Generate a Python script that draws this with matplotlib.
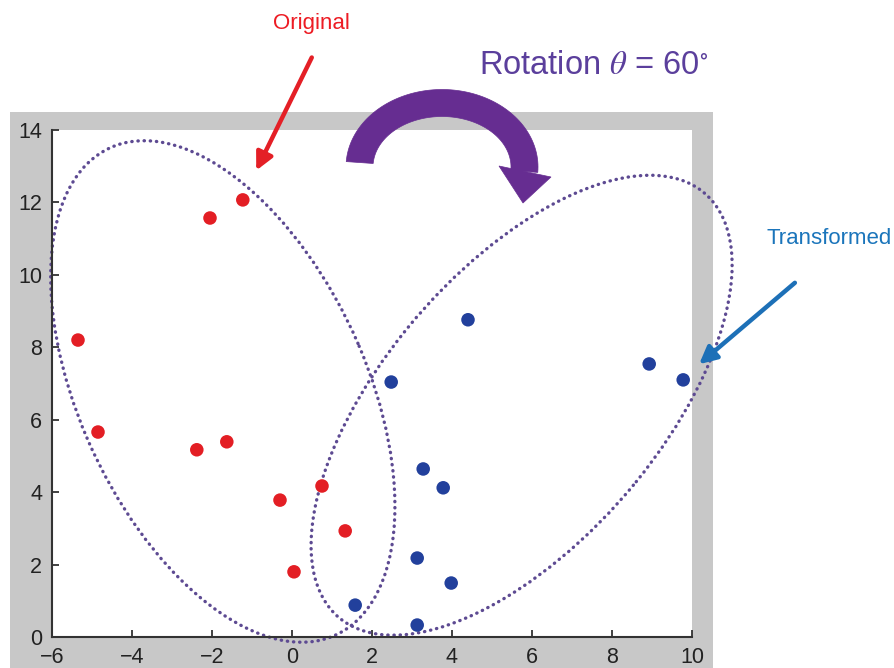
import numpy as np
import matplotlib
matplotlib.use("Agg")
import matplotlib.pyplot as plt
from matplotlib.patches import Ellipse, Rectangle, Polygon, FancyArrowPatch

plt.rcParams['font.family'] = ['Liberation Sans', 'DejaVu Sans']
plt.rcParams['mathtext.fontset'] = 'stix'

# Point clouds
orig_x = [-5.35, -4.85, -2.05, -1.23, -2.38, -1.63, -0.30, 0.75, 1.33, 0.05]
orig_y = [8.20, 5.66, 11.57, 12.07, 5.17, 5.39, 3.78, 4.17, 2.93, 1.80]
trans_x = [4.40, 2.48, 8.93, 9.78, 3.28, 3.78, 3.13, 3.98, 1.58, 3.13]
trans_y = [8.76, 7.04, 7.54, 7.10, 4.64, 4.12, 2.18, 1.49, 0.88, 0.33]

# Enclosing ellipses (center, full width, full height, angle in degrees)
ell_centers = [(-1.73, 6.78), (5.74, 6.40)]
ell_widths = [14.6, 14.88]
ell_heights = [7.26, 7.12]
ell_angles = [111.4, 53.6]

x_ticks = [-6, -4, -2, 0, 2, 4, 6, 8, 10]
y_ticks = [0, 2, 4, 6, 8, 10, 12, 14]

W, H = 895, 668


def fig_pt(x, y):
    """Pixel position (origin top-left) to figure fraction."""
    return (x / W, 1 - y / H)


fig = plt.figure(figsize=(W / 100, H / 100), dpi=100)
fig.patch.set_facecolor('white')

# Grey frame behind the plotting area
fig.add_artist(Rectangle((10 / W, 0), (713 - 10) / W, (668 - 112) / H,
                         transform=fig.transFigure, facecolor='#c8c8c8',
                         edgecolor='none', zorder=-5))

ax = fig.add_axes([52 / W, 31 / H, 640 / W, 507 / H])
ax.set_facecolor('white')
ax.set_xlim(-6, 10)
ax.set_ylim(0, 14)
ax.set_xticks(x_ticks)
ax.set_yticks(y_ticks)
for side in ('top', 'right'):
    ax.spines[side].set_visible(False)
for side in ('left', 'bottom'):
    ax.spines[side].set_color('#333333')
    ax.spines[side].set_linewidth(1.5)
ax.tick_params(direction='in', length=5, width=1.3, color='#333333',
               labelsize=15.5, labelcolor='#222222')
ax.tick_params(axis='x', pad=7)
ax.tick_params(axis='y', pad=7)

for (c, w, h, a) in zip(ell_centers, ell_widths, ell_heights, ell_angles):
    ax.add_patch(Ellipse(c, w, h, angle=a, fill=False, edgecolor='#5d4a92',
                         lw=2.4, linestyle=(0, (0.1, 1.75)),
                         capstyle='round', clip_on=False, zorder=2))

ax.scatter(orig_x, orig_y, s=95, color='#e31e24', edgecolors='none', zorder=3)
ax.scatter(trans_x, trans_y, s=95, color='#22409c', edgecolors='none', zorder=3)

# Labels
fig.text(*fig_pt(311, 24), 'Original', color='#ed1c24', fontsize=16,
         ha='center', va='center')
fig.text(*fig_pt(767, 239), 'Transformed', color='#1b75bb', fontsize=16,
         ha='left', va='center')
fig.text(*fig_pt(594, 66), r'Rotation $\theta$ = 60$^{\circ}$', color='#5b3f9c',
         fontsize=23.5, ha='center', va='center')

# Pointer arrows
fig.add_artist(FancyArrowPatch(fig_pt(313, 55), fig_pt(255, 173),
                               transform=fig.transFigure, arrowstyle='-|>',
                               mutation_scale=26, lw=3.2, color='#e41f26'))
fig.add_artist(FancyArrowPatch(fig_pt(797, 281), fig_pt(697, 366),
                               transform=fig.transFigure, arrowstyle='-|>',
                               mutation_scale=26, lw=3.2, color='#1d70b7'))

# Thick curved rotation arrow
cx, cy, rx, ry, hw = 442, 167, 82.5, 64, 13.5
t = np.radians(np.linspace(176, -4, 90))
outer = np.column_stack([cx + (rx + hw) * np.cos(t), cy - (ry + hw) * np.sin(t)])
inner = np.column_stack([cx + (rx - hw) * np.cos(t), cy - (ry - hw) * np.sin(t)])[::-1]
band = np.vstack([outer, inner])
band_fig = np.column_stack([band[:, 0] / W, 1 - band[:, 1] / H])
fig.add_artist(Polygon(band_fig, closed=True, transform=fig.transFigure,
                       facecolor='#662d91', edgecolor='#662d91', lw=0.5))
head = np.array([[499, 166], [551, 177], [523, 203]], dtype=float)
head_fig = np.column_stack([head[:, 0] / W, 1 - head[:, 1] / H])
fig.add_artist(Polygon(head_fig, closed=True, transform=fig.transFigure,
                       facecolor='#662d91', edgecolor='#662d91', lw=0.5))

fig.savefig('out.png', dpi=100)
